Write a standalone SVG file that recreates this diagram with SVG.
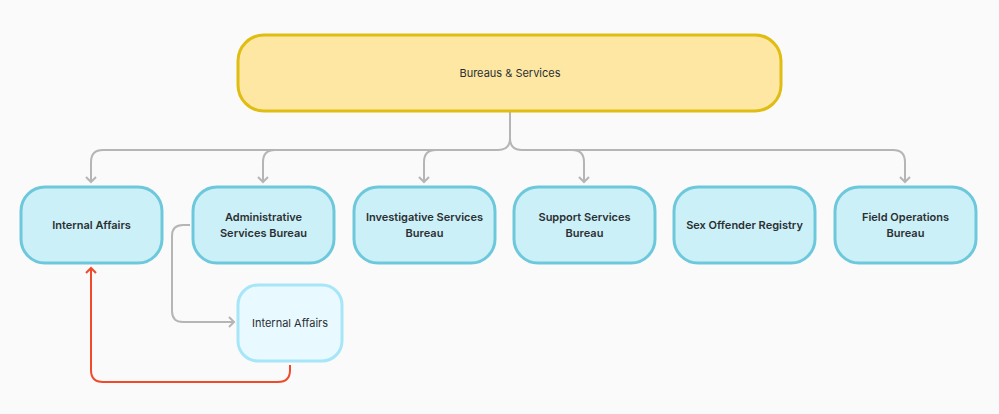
<svg xmlns="http://www.w3.org/2000/svg" width="999" height="414" viewBox="0 0 999 414">
<style>
.n rect{fill:#ccf0f7;stroke:#6ec8dc;stroke-width:3}
.n text{font-family:Inter,"Liberation Sans",sans-serif;font-size:11px;font-weight:600;fill:#2a2f33;text-anchor:middle}
.c path{fill:none;stroke:#b5b5b5;stroke-width:2}
</style>
<defs>
<marker id="a" markerWidth="12" markerHeight="12" refX="6" refY="6" orient="auto" markerUnits="userSpaceOnUse"><path d="M1,1 L6,6 L1,11" fill="none" stroke="#b5b5b5" stroke-width="2"/></marker>
<marker id="r" markerWidth="12" markerHeight="12" refX="6" refY="6" orient="auto" markerUnits="userSpaceOnUse"><path d="M1,1 L6,6 L1,11" fill="none" stroke="#f04a2a" stroke-width="2"/></marker>
</defs>
<rect width="999" height="414" fill="#fafafa"/>
<g class="c">
<path d="M510,112 V138 Q510,150 498,150 H103 Q91,150 91,162 V182" marker-end="url(#a)"/>
<path d="M510,138 Q510,150 522,150 H893 Q905,150 905,162 V182" marker-end="url(#a)"/>
<path d="M275,150 Q263,150 263,162 V182" marker-end="url(#a)"/>
<path d="M436,150 Q424,150 424,162 V182" marker-end="url(#a)"/>
<path d="M572,150 Q584,150 584,162 V182" marker-end="url(#a)"/>
<path d="M190,225 H183 Q172,225 172,236 V311 Q172,322 183,322 H234" marker-end="url(#a)"/>
<path d="M290,365 V370 Q290,382 278,382 H103 Q91,382 91,370 V268" style="stroke:#f04a2a" marker-end="url(#r)"/>
</g>
<g id="root"><rect x="238" y="35" width="543" height="76" rx="26" fill="#fde7a3" stroke="#e0bd12" stroke-width="3"/><text x="510" y="77" font-family="Inter,'Liberation Sans',sans-serif" font-size="11" fill="#2a2f33" text-anchor="middle">Bureaus &amp; Services</text></g>
<g id="n1" class="n"><rect x="21" y="187" width="141" height="76" rx="24"/><text x="91.5" y="229">Internal Affairs</text></g>
<g id="n2" class="n"><rect x="193" y="187" width="141" height="76" rx="24"/><text x="263.5" y="221">Administrative</text><text x="263.5" y="237">Services Bureau</text></g>
<g id="n3" class="n"><rect x="354" y="187" width="141" height="76" rx="24"/><text x="424.5" y="221">Investigative Services</text><text x="424.5" y="237">Bureau</text></g>
<g id="n4" class="n"><rect x="514" y="187" width="141" height="76" rx="24"/><text x="584.5" y="221">Support Services</text><text x="584.5" y="237">Bureau</text></g>
<g id="n5" class="n"><rect x="674" y="187" width="141" height="76" rx="24"/><text x="744.5" y="229">Sex Offender Registry</text></g>
<g id="n6" class="n"><rect x="835" y="187" width="141" height="76" rx="24"/><text x="905.5" y="221">Field Operations</text><text x="905.5" y="237">Bureau</text></g>
<g id="n7"><rect x="238" y="285" width="104" height="76" rx="20" fill="#e8faff" stroke="#a6e6f8" stroke-width="3"/><text x="290" y="327" font-family="Inter,'Liberation Sans',sans-serif" font-size="11" fill="#2a2f33" text-anchor="middle">Internal Affairs</text></g>
</svg>
